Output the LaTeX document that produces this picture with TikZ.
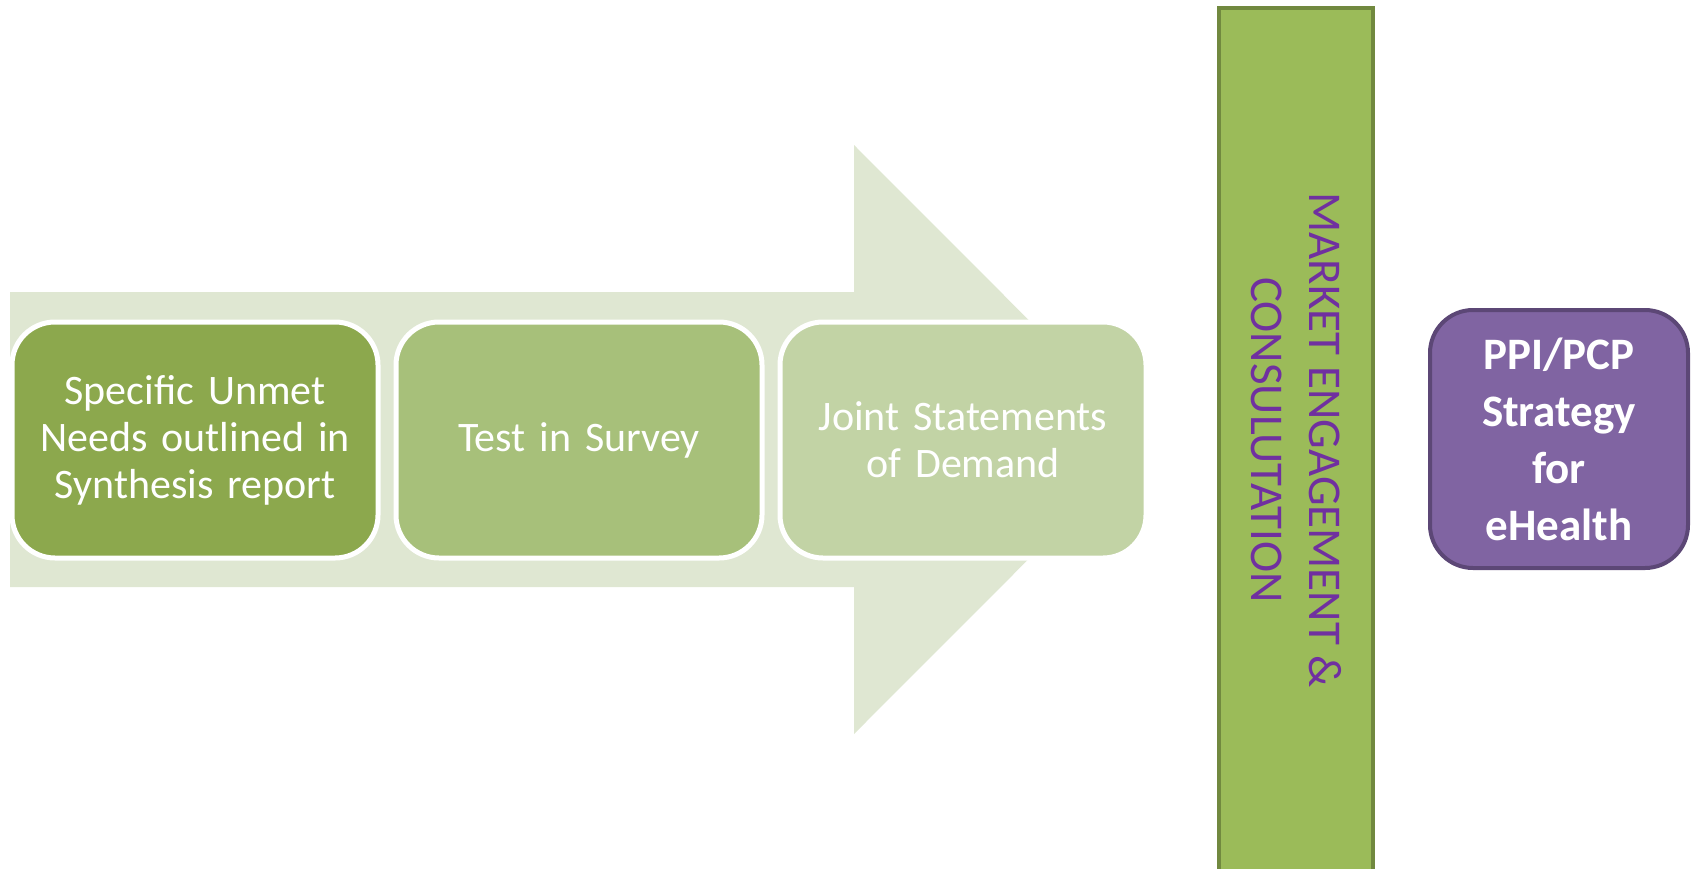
\documentclass[tikz,border=0pt]{standalone}
\usepackage{fontspec}
\setmainfont{Carlito}
\usetikzlibrary{positioning}

\definecolor{arrowbg}{HTML}{DFE7D2}
\definecolor{stageA}{HTML}{8CA84D}
\definecolor{stageB}{HTML}{A7C07A}
\definecolor{stageC}{HTML}{C2D3A5}
\definecolor{barfill}{HTML}{9BBB59}
\definecolor{barline}{HTML}{71893F}
\definecolor{marketpurple}{HTML}{7030A0}
\definecolor{ppifill}{HTML}{8064A2}
\definecolor{ppiline}{HTML}{5C4776}

\begin{document}
\begin{tikzpicture}[x=1pt,y=-1pt,node distance=384pt,inner sep=0pt]
  \tikzstyle{stage}=[rectangle,rounded corners=43pt,draw=white,line width=5pt,
                     minimum width=366pt,minimum height=236pt,text width=340pt,
                     align=center,text=white,font=\fontsize{42}{47}\selectfont]
  \tikzstyle{goal}=[rectangle,rounded corners=43pt,draw=ppiline,fill=ppifill,
                    line width=4pt,minimum width=258pt,minimum height=258pt,
                    text width=240pt,align=center,text=white,
                    font=\fontsize{45}{57}\selectfont\bfseries]

  \useasboundingbox (0,0) rectangle (1695,868);

  % big background arrow
  \fill[arrowbg] (10,292) -- (854,292) -- (854,145) -- (1148,439.5)
                 -- (854,734) -- (854,587) -- (10,587) -- cycle;

  \node[stage,fill=stageA] (needs) at (195,440) {Specific Unmet\\Needs outlined in\\Synthesis report};
  \node[stage,fill=stageB] (survey) [right of=needs] {Test in Survey};
  \node[stage,fill=stageC] (demand) [right of=survey] {Joint Statements\\of Demand};

  % market engagement bar
  \node[draw=barline,fill=barfill,line width=4pt,minimum width=154pt,
        minimum height=896pt] (bar) at (1296,456) {};
  \node[rotate=-90,align=center,text=marketpurple,
        font=\fontsize{47}{58}\selectfont] (market) at (1296,440)
        {MARKET ENGAGEMENT \&\\CONSULUTATION};

  \node[goal] (ppi) at (1559,439) {PPI/PCP\\Strategy\\for\\eHealth};
\end{tikzpicture}
\end{document}
